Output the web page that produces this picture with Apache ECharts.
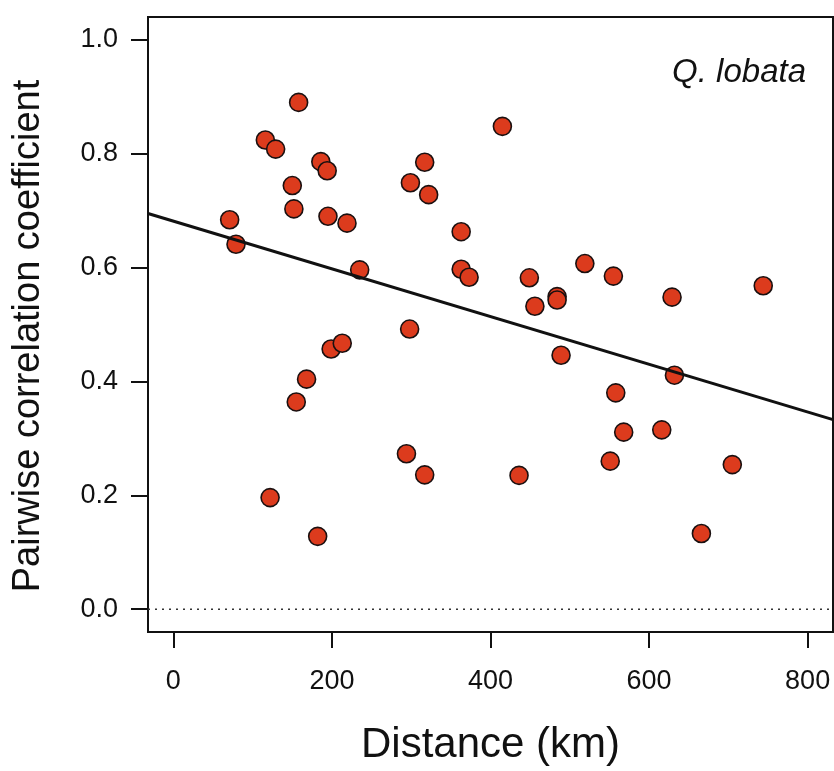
<!DOCTYPE html>
<html>
<head>
<meta charset="utf-8">
<script src="https://cdn.jsdelivr.net/npm/echarts@6/dist/echarts.min.js"></script>
<style>
html,body{margin:0;padding:0;background:#fff;}
#chart{width:834px;height:771px;}
</style>
</head>
<body>
<div id="chart"></div>
<script>
// Distance between site pairs (km)
const distanceKm = [71, 79, 122, 116, 129, 158, 150, 152, 155, 168, 182, 186, 194, 195, 219, 199, 213, 235,
  294, 317, 298, 299, 317, 322, 363, 363, 373, 415, 436, 449, 456, 484, 484, 489, 519, 555, 551, 558, 568,
  616, 629, 632, 666, 705, 744];
// Pairwise correlation coefficient
const correlation = [0.684, 0.641, 0.196, 0.824, 0.808, 0.890, 0.744, 0.703, 0.364, 0.404, 0.128, 0.786, 0.770,
  0.690, 0.678, 0.457, 0.467, 0.596, 0.273, 0.236, 0.492, 0.749, 0.785, 0.728, 0.663, 0.597, 0.583, 0.848,
  0.235, 0.582, 0.532, 0.549, 0.543, 0.446, 0.607, 0.585, 0.260, 0.380, 0.311, 0.315, 0.548, 0.411, 0.133,
  0.254, 0.568];
// Fitted regression line (endpoints)
const fitX = [-32, 832];
const fitY = [0.695, 0.333];
// Tick labels
const xTicks = [0, 200, 400, 600, 800];
const yTicks = [0, 0.2, 0.4, 0.6, 0.8, 1.0];
const zeroLine = [0];

const chart = echarts.init(document.getElementById('chart'));
const FONT = '"Liberation Sans", Arial, Helvetica, sans-serif';
const INK = '#111';

chart.setOption({
  backgroundColor: '#fff',
  animation: false,
  grid: {
    left: 148, right: 1, top: 17, bottom: 136,
    show: true, borderColor: INK, borderWidth: 2, backgroundColor: 'transparent'
  },
  xAxis: {
    type: 'value', min: -32, max: 832,
    name: 'Distance (km)', nameLocation: 'middle', nameGap: 92,
    nameTextStyle: { fontFamily: FONT, fontSize: 42, color: INK },
    axisLine: { show: false, onZero: false },
    splitLine: { show: false },
    axisTick: { show: true, inside: false, length: 16, customValues: xTicks, lineStyle: { color: INK, width: 2 } },
    axisLabel: { customValues: xTicks, margin: 36, fontFamily: FONT, fontSize: 27, color: INK,
      formatter: v => String(v) }
  },
  yAxis: {
    type: 'value', min: -0.04, max: 1.04,
    axisLine: { show: false, onZero: false },
    splitLine: { show: false },
    axisTick: { show: true, inside: false, length: 17, customValues: yTicks, lineStyle: { color: INK, width: 2 } },
    axisLabel: { customValues: yTicks, margin: 30, fontFamily: FONT, fontSize: 27, color: INK,
      formatter: v => v.toFixed(1) }
  },
  graphic: [{
    type: 'text', right: 28, top: 56,
    style: { text: 'Q. lobata', font: 'italic 33px ' + FONT, fill: INK }
  }, {
    type: 'text', x: 29, y: 336, rotation: Math.PI / 2,
    style: { text: 'Pairwise correlation coefficient', font: '38px ' + FONT, fill: INK,
      align: 'center', verticalAlign: 'middle' }
  }],
  series: [
    {
      type: 'line', data: [[fitX[0], zeroLine[0]], [fitX[1], zeroLine[0]]],
      symbol: 'none', silent: true, z: 1,
      lineStyle: { color: '#333', width: 1.6, type: [2, 5] }
    },
    {
      type: 'scatter', z: 2,
      data: distanceKm.map((d, i) => [d, correlation[i]]),
      symbol: 'circle', symbolSize: 18,
      itemStyle: { color: '#dc3b1d', borderColor: '#1a1010', borderWidth: 1.6, opacity: 1 }
    },
    {
      type: 'line', z: 3, silent: true,
      data: fitX.map((x, i) => [x, fitY[i]]),
      symbol: 'none',
      lineStyle: { color: INK, width: 3 }
    }
  ]
});
</script>
</body>
</html>
